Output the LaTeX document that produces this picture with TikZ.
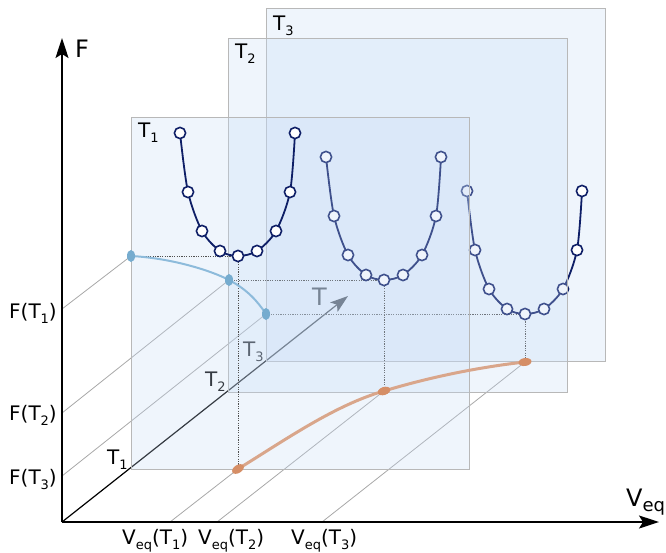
\documentclass[tikz,border=0pt]{standalone}
\usepackage{fontspec}
\setmainfont{DejaVu Sans}
\usepackage{xcolor}
\definecolor{cNavy}{HTML}{0E1E66}
\definecolor{cPlane}{HTML}{C4DAF5}
\definecolor{cBlue}{HTML}{8DBBDB}
\definecolor{cBluePt}{HTML}{76ACCF}
\definecolor{cOrange}{HTML}{D9A68B}
\definecolor{cOrangePt}{HTML}{D58E66}
\definecolor{cGuide}{HTML}{A8A8A8}
\definecolor{cDrop}{HTML}{505050}
\usepackage{tikz}
\usetikzlibrary{arrows.meta,shapes.geometric}
% lowered index in text font
\newcommand\lowidx[2][13]{\raisebox{-5pt}{\fontsize{#1}{#1}\selectfont #2}}
\tikzset{
  plane/.style={draw=black!28,line width=1pt,fill=cPlane,fill opacity=0.27},
  well/.style={draw=cNavy,line width=1.8pt},
  guide/.style={draw=cGuide,line width=0.8pt},
  drop/.style={draw=cDrop,line width=0.9pt,dash pattern=on 1.2pt off 1.2pt},
  axis/.style={line width=1.6pt,-{Stealth[length=20pt,width=13pt,inset=4pt]}},
  axis-t/.style={line width=1.2pt,-{Stealth[length=18pt,width=12pt,inset=4pt]}},
  curve-blue/.style={draw=cBlue,line width=2pt},
  curve-orange/.style={draw=cOrange,line width=3pt},
  pt-blue/.style={ellipse,fill=cBluePt,inner sep=0pt,
    minimum width=8pt,minimum height=12pt},
  pt-orange/.style={ellipse,fill=cOrangePt,inner sep=0pt,
    minimum width=13pt,minimum height=8pt},
  lbl/.style={inner sep=0pt,anchor=base west},
  big/.style={font=\fontsize{24}{28}\selectfont},
}

\begin{document}
\begin{tikzpicture}[x=1pt,y=-1pt,font=\fontsize{20}{23}\selectfont]
  \useasboundingbox (0,0) rectangle (666,552);
  % axes
  \coordinate (o)    at (62,522);
  \coordinate (ftip) at (62,38);
  \coordinate (vtip) at (659,522);
  \coordinate (ttip) at (348,296);
  \coordinate (fa1) at (62,309);
  \coordinate (fa2) at (62,413);
  \coordinate (fa3) at (62,476);
  \coordinate (va1) at (170,522);
  \coordinate (va2) at (217,522);
  \coordinate (va3) at (322,522);
  % minima and their projections
  \coordinate (m1) at (238,256);
  \coordinate (m2) at (384,280);
  \coordinate (m3) at (525,314);
  \coordinate (b1) at (131,256);
  \coordinate (b2) at (229,280);
  \coordinate (b3) at (266,314);
  \coordinate (o1) at (238,469);
  \coordinate (o2) at (384,391);
  \coordinate (o3) at (525,362);

  \draw[guide] (fa1) -- (b1);
  \draw[guide] (fa2) -- (b2);
  \draw[guide] (fa3) -- (b3);
  \draw[guide] (va1) -- (o1);
  \draw[guide] (va2) -- (o2);
  \draw[guide] (va3) -- (o3);
  \draw[axis-t] (o) -- (ttip);
  \node[lbl,big] (tlbl) at (312,305) {T};

  % plane T3
  \draw[plane] (266,8) rectangle (605,361);
  \node[lbl] (p3) at (273,30) {T\lowidx{3}};
  \node[lbl] (t3) at (243,356) {T\lowidx{3}};
  \draw[drop] (b3) -- (m3) -- (o3);
  \draw[well,shift={(m3)}] plot[smooth,mark=*,mark size=5.6pt,
    mark options={fill=white,line width=1.6pt}] coordinates
    {(-58,-123) (-50,-64) (-36,-25) (-18,-5) (0,0) (19,-5) (38,-25) (52,-64) (57,-123)};

  % plane T2
  \draw[plane] (228,38) rectangle (567,392);
  \node[lbl] (p2) at (235,58) {T\lowidx{2}};
  \node[lbl] (t2) at (205,386) {T\lowidx{2}};
  \draw[drop] (b2) -- (m2) -- (o2);
  \draw[well,shift={(m2)}] plot[smooth,mark=*,mark size=5.6pt,
    mark options={fill=white,line width=1.6pt}] coordinates
    {(-58,-123) (-50,-64) (-36,-25) (-18,-5) (0,0) (19,-5) (38,-25) (52,-64) (57,-123)};

  % plane T1
  \draw[plane] (131,117) rectangle (469,469);
  \node[lbl] (p1) at (138,137) {T\lowidx{1}};
  \node[lbl] (t1) at (107,464) {T\lowidx{1}};
  \draw[drop] (b1) -- (m1) -- (o1);
  \draw[well,shift={(m1)}] plot[smooth,mark=*,mark size=5.6pt,
    mark options={fill=white,line width=1.6pt}] coordinates
    {(-58,-123) (-50,-64) (-36,-25) (-18,-5) (0,0) (19,-5) (38,-25) (52,-64) (57,-123)};

  % projected curves
  \draw[curve-blue] (b1) .. controls (170,258) and (210,270) .. (b2)
    .. controls (248,290) and (258,302) .. (b3);
  \draw[curve-orange] (o1) .. controls (285,440) and (335,405) .. (o2)
    .. controls (430,377) and (480,367) .. (o3);
  \node[pt-blue] (b1dot) at (b1) {};
  \node[pt-blue] (b2dot) at (b2) {};
  \node[pt-blue] (b3dot) at (b3) {};
  \node[pt-orange,rotate=32] (o1dot) at (o1) {};
  \node[pt-orange,rotate=18] (o2dot) at (o2) {};
  \node[pt-orange,rotate=8]  (o3dot) at (o3) {};

  \draw[axis] (o) -- (ftip);
  \draw[axis] (o) -- (vtip);
  \node[lbl,big] (flbl) at (75,57) {F};
  \node[lbl,big] (vlbl) at (626,506) {V\lowidx[18]{eq}};
  \node[lbl,anchor=base east] (f1) at (57,318) {F(T\lowidx{1})};
  \node[lbl,anchor=base east] (f2) at (57,420) {F(T\lowidx{2})};
  \node[lbl,anchor=base east] (f3) at (57,484) {F(T\lowidx{3})};
  \node[lbl] (v1) at (122,544) {V\lowidx{eq}(T\lowidx{1})};
  \node[lbl] (v2) at (198,544) {V\lowidx{eq}(T\lowidx{2})};
  \node[lbl] (v3) at (291,544) {V\lowidx{eq}(T\lowidx{3})};
\end{tikzpicture}
\end{document}
